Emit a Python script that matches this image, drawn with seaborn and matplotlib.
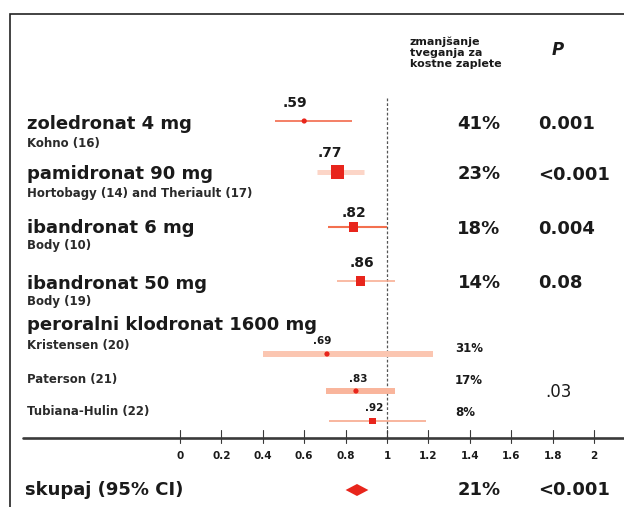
import matplotlib
matplotlib.use("Agg")
import matplotlib.pyplot as plt
import seaborn as sns
import pandas as pd

# ---------------- data ----------------
drug_labels = ["zoledronat 4 mg", "pamidronat 90 mg", "ibandronat 6 mg",
               "ibandronat 50 mg", "peroralni klodronat 1600 mg"]
study_labels = ["Kohno (16)", "Hortobagy (14) and Theriault (17)", "Body (10)",
                "Body (19)", "Kristensen (20)", "Paterson (21)", "Tubiana-Hulin (22)"]
hr_text = [".59", ".77", ".82", ".86", ".69", ".83", ".92"]
hr_point = [0.60, 0.76, 0.84, 0.87, 0.71, 0.85, 0.93]
ci_low = [0.46, 0.66, 0.715, 0.76, 0.40, 0.705, 0.72]
ci_high = [0.83, 0.89, 1.00, 1.04, 1.22, 1.04, 1.19]
risk_reduction = ["41%", "23%", "18%", "14%", "31%", "17%", "8%"]
p_values = ["0.001", "<0.001", "0.004", "0.08"]
p_clodronate = ".03"
pooled_label = "skupaj (95% CI)"
pooled_est, pooled_low, pooled_high = 0.855, 0.80, 0.91
pooled_reduction = "21%"
pooled_p = "<0.001"
tick_values = [0, 0.2, 0.4, 0.6, 0.8, 1, 1.2, 1.4, 1.6, 1.8, 2]
tick_labels = ["0", "0.2", "0.4", "0.6", "0.8", "1", "1.2", "1.4", "1.6", "1.8", "2"]
header_rr = "zmanjšanje\ntveganja za\nkostne zaplete"
header_p = "P"

# ---------------- styling / layout ----------------
sns.set_theme(style="white")
plt.rcParams["font.family"] = ["DejaVu Sans"]

W, H = 624, 507
X0, X1 = 180.0, 387.0          # pixel of 0 and 1 on the axis
def px(x):                       # pixel column -> data x
    return (x - X0) / (X1 - X0)

fig = plt.figure(figsize=(W / 100, H / 100), dpi=100)
ax = fig.add_axes([0, 0, 1, 1])
ax.set_xlim(px(0), px(W))
ax.set_ylim(H, 0)
ax.axis("off")

txt = "#1a1a1a"

# frame (top + left)
ax.plot([px(10), px(10), px(W + 5)], [H + 5, 14, 14], color="#222222", lw=1.2,
        solid_joinstyle="miter")

# row positions (pixels) for the estimates
row_y = [121, 172, 227, 281, 354, 391, 421]
line_w = [1.2, 3.6, 1.5, 1.1, 4.3, 4.3, 1.1]
line_c = ["#f26a4c", "#fcd5c7", "#f3704f", "#f8a88c", "#fbc6b1", "#f9b59c", "#f7a284"]
marker = ["o", "s", "s", "s", "o", "o", "s"]
msize = [14, 90, 42, 42, 14, 14, 22]
lab_dx = [-9, -7, 0, 2, -5, 2, 2]
lab_y = [103, 153, 213, 263, 341, 379, 408]
lab_fs = [10, 10, 10, 10, 7.5, 7.5, 7.5]

# reference dashed line at 1
ax.plot([1, 1], [98, 437], color="#555555", lw=0.9, ls=(0, (2.2, 1.6)), zorder=1)

df = pd.DataFrame({"hr": hr_point, "y": row_y, "lo": ci_low, "hi": ci_high})
for i, r in df.iterrows():
    ax.plot([r.lo, r.hi], [r.y, r.y], color=line_c[i], lw=line_w[i],
            solid_capstyle="butt", zorder=2)
    sns.scatterplot(x=[r.hr], y=[r.y], ax=ax, marker=marker[i], s=msize[i],
                    color="#e8251c", edgecolor="none", zorder=3, legend=False)
    ax.text(r.hr + lab_dx[i] / (X1 - X0), lab_y[i], hr_text[i], ha="center",
            va="center", fontsize=lab_fs[i], fontweight="bold", color=txt)

# pooled diamond
dh = 6
ax.fill([pooled_low, pooled_est, pooled_high, pooled_est],
        [490, 490 - dh, 490, 490 + dh], color="#e8251c", lw=0, zorder=3)

# axis line + ticks
ax.plot([px(23), px(W + 5)], [437.5, 437.5], color="#3a3a3a", lw=1.9, zorder=2)
for tv, tl in zip(tick_values, tick_labels):
    ax.plot([tv, tv], [430, 443], color="#3a3a3a", lw=0.8, zorder=2)
    ax.text(tv, 456, tl, ha="center", va="center", fontsize=7.5,
            fontweight="bold", color=txt)

# left labels
drug_y = [124, 174, 228, 284, 325]
for lab, yy in zip(drug_labels, drug_y):
    ax.text(px(27), yy, lab, ha="left", va="center", fontsize=13,
            fontweight="bold", color=txt)
study_y = [143, 194, 246, 302, 345, 380, 412]
for lab, yy in zip(study_labels, study_y):
    ax.text(px(27), yy, lab, ha="left", va="center", fontsize=8.5,
            fontweight="bold", color="#2a2a2a")
ax.text(px(25), 490, pooled_label, ha="left", va="center", fontsize=13,
        fontweight="bold", color=txt)

# headers
ax.text(px(410), 53, header_rr, ha="left", va="center", fontsize=8,
        fontweight="bold", color=txt, linespacing=1.15)
ax.text(px(558), 50, header_p, ha="center", va="center", fontsize=12,
        fontweight="bold", style="italic", color=txt)

# risk reduction column
rr_y = [124, 174, 229, 283, 348, 380, 412]
for i, (lab, yy) in enumerate(zip(risk_reduction, rr_y)):
    if i < 4:
        ax.text(px(479), yy, lab, ha="center", va="center", fontsize=13,
                fontweight="bold", color=txt)
    else:
        ax.text(px(455), yy, lab, ha="left", va="center", fontsize=8.5,
                fontweight="bold", color=txt)
ax.text(px(479), 490, pooled_reduction, ha="center", va="center", fontsize=13,
        fontweight="bold", color=txt)

# P column
p_y = [124, 175, 229, 283]
for lab, yy in zip(p_values, p_y):
    ax.text(px(538), yy, lab, ha="left", va="center", fontsize=13,
            fontweight="bold", color=txt)
ax.text(px(545), 392, p_clodronate, ha="left", va="center", fontsize=12,
        color=txt)
ax.text(px(538), 490, pooled_p, ha="left", va="center", fontsize=13,
        fontweight="bold", color=txt)

fig.savefig("out.png", dpi=100)
